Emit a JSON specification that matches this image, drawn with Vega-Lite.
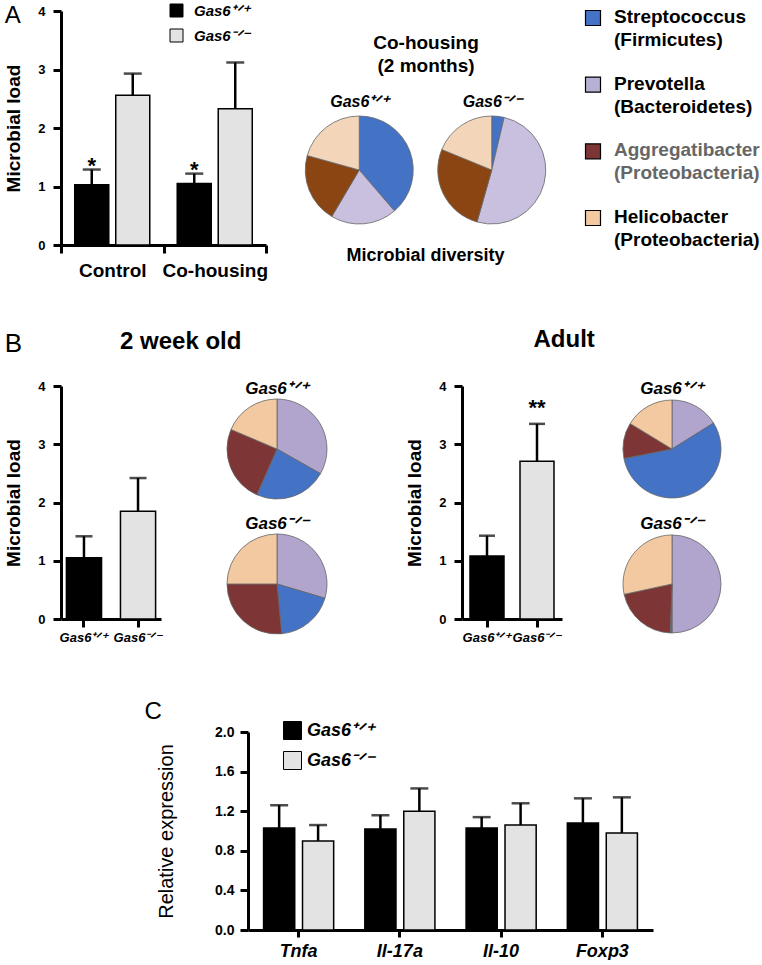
{
  "$schema": "https://vega.github.io/schema/vega-lite/v6.json",
  "padding": {"left": 4, "top": 3, "right": 0, "bottom": 0},
  "spacing": 53,
  "resolve": {"scale": {"color": "independent", "xOffset": "independent", "x": "independent", "y": "independent"}, "legend": {"color": "independent"}},
  "config": {
    "font": "Liberation Sans",
    "view": {"stroke": null},
    "axis": {"domainColor": "black", "tickColor": "black", "labelColor": "black", "titleColor": "black", "domainWidth": 3, "tickWidth": 3, "grid": false, "labelFont": "Liberation Sans", "titleFont": "Liberation Sans", "labelFontWeight": "bold", "titleFontWeight": "bold"},
    "title": {"color": "black", "font": "Liberation Sans", "fontWeight": "bold"},
    "legend": {"labelFont": "Liberation Sans", "labelColor": "black", "padding": 0}
  },
  "datasets": {
    "barA": [
      {"grp": "Control", "gt": "Gas6⁺ᐟ⁺", "v": 1.03, "e": 1.29, "sig": "*"},
      {"grp": "Control", "gt": "Gas6⁻ᐟ⁻", "v": 2.56, "e": 2.93, "sig": null},
      {"grp": "Co-housing", "gt": "Gas6⁺ᐟ⁺", "v": 1.05, "e": 1.22, "sig": "*"},
      {"grp": "Co-housing", "gt": "Gas6⁻ᐟ⁻", "v": 2.33, "e": 3.12, "sig": null}
    ],
    "pieA": [
      {"set": "Co-housing", "gt": "Gas6⁺ᐟ⁺", "taxon": "Streptococcus", "pct": 38.7, "k": 1},
      {"set": "Co-housing", "gt": "Gas6⁺ᐟ⁺", "taxon": "Prevotella", "pct": 19.8, "k": 2},
      {"set": "Co-housing", "gt": "Gas6⁺ᐟ⁺", "taxon": "Aggregatibacter", "pct": 20.8, "k": 3},
      {"set": "Co-housing", "gt": "Gas6⁺ᐟ⁺", "taxon": "Helicobacter", "pct": 20.7, "k": 4},
      {"set": "Co-housing", "gt": "Gas6⁻ᐟ⁻", "taxon": "Streptococcus", "pct": 3.7, "k": 1},
      {"set": "Co-housing", "gt": "Gas6⁻ᐟ⁻", "taxon": "Prevotella", "pct": 50.7, "k": 2},
      {"set": "Co-housing", "gt": "Gas6⁻ᐟ⁻", "taxon": "Aggregatibacter", "pct": 26.8, "k": 3},
      {"set": "Co-housing", "gt": "Gas6⁻ᐟ⁻", "taxon": "Helicobacter", "pct": 18.8, "k": 4}
    ],
    "leg": [
      {"taxon": "Streptococcus", "label": "Streptococcus\n(Firmicutes)"},
      {"taxon": "Prevotella", "label": "Prevotella\n(Bacteroidetes)"},
      {"taxon": "Aggregatibacter", "label": "Aggregatibacter\n(Proteobacteria)"},
      {"taxon": "Helicobacter", "label": "Helicobacter\n(Proteobacteria)"}
    ],
    "barB1": [
      {"gt": "Gas6⁺ᐟ⁺", "v": 1.05, "e": 1.42},
      {"gt": "Gas6⁻ᐟ⁻", "v": 1.85, "e": 2.42}
    ],
    "barB2": [
      {"gt": "Gas6⁺ᐟ⁺", "v": 1.08, "e": 1.43, "sig": null},
      {"gt": "Gas6⁻ᐟ⁻", "v": 2.71, "e": 3.35, "sig": "**"}
    ],
    "pieB1": [
      {"gt": "Gas6⁺ᐟ⁺", "taxon": "Prevotella", "pct": 33.2, "k": 1},
      {"gt": "Gas6⁺ᐟ⁺", "taxon": "Streptococcus", "pct": 23.4, "k": 2},
      {"gt": "Gas6⁺ᐟ⁺", "taxon": "Aggregatibacter", "pct": 24.8, "k": 3},
      {"gt": "Gas6⁺ᐟ⁺", "taxon": "Helicobacter", "pct": 18.6, "k": 4},
      {"gt": "Gas6⁻ᐟ⁻", "taxon": "Prevotella", "pct": 29.6, "k": 1},
      {"gt": "Gas6⁻ᐟ⁻", "taxon": "Streptococcus", "pct": 18.9, "k": 2},
      {"gt": "Gas6⁻ᐟ⁻", "taxon": "Aggregatibacter", "pct": 26.5, "k": 3},
      {"gt": "Gas6⁻ᐟ⁻", "taxon": "Helicobacter", "pct": 25.0, "k": 4}
    ],
    "pieB2": [
      {"gt": "Gas6⁺ᐟ⁺", "taxon": "Prevotella", "pct": 16.1, "k": 1},
      {"gt": "Gas6⁺ᐟ⁺", "taxon": "Streptococcus", "pct": 55.8, "k": 2},
      {"gt": "Gas6⁺ᐟ⁺", "taxon": "Aggregatibacter", "pct": 11.8, "k": 3},
      {"gt": "Gas6⁺ᐟ⁺", "taxon": "Helicobacter", "pct": 16.3, "k": 4},
      {"gt": "Gas6⁻ᐟ⁻", "taxon": "Prevotella", "pct": 50.0, "k": 1},
      {"gt": "Gas6⁻ᐟ⁻", "taxon": "Streptococcus", "pct": 0.6, "k": 2},
      {"gt": "Gas6⁻ᐟ⁻", "taxon": "Aggregatibacter", "pct": 21.0, "k": 3},
      {"gt": "Gas6⁻ᐟ⁻", "taxon": "Helicobacter", "pct": 28.4, "k": 4}
    ],
    "barC": [
      {"gene": "Tnfa", "gt": "Gas6⁺ᐟ⁺", "v": 1.03, "e": 1.26},
      {"gene": "Tnfa", "gt": "Gas6⁻ᐟ⁻", "v": 0.90, "e": 1.06},
      {"gene": "Il-17a", "gt": "Gas6⁺ᐟ⁺", "v": 1.02, "e": 1.16},
      {"gene": "Il-17a", "gt": "Gas6⁻ᐟ⁻", "v": 1.20, "e": 1.43},
      {"gene": "Il-10", "gt": "Gas6⁺ᐟ⁺", "v": 1.03, "e": 1.14},
      {"gene": "Il-10", "gt": "Gas6⁻ᐟ⁻", "v": 1.06, "e": 1.28},
      {"gene": "Foxp3", "gt": "Gas6⁺ᐟ⁺", "v": 1.08, "e": 1.33},
      {"gene": "Foxp3", "gt": "Gas6⁻ᐟ⁻", "v": 0.98, "e": 1.34}
    ],
    "spacer": [{"t": ""}]
  },
  "vconcat": [
    {
      "vconcat": [
        {
          "hconcat": [
            {
              "width": 205, "height": 234,
              "data": {"name": "barA"},
              "title": {"text": "A", "anchor": "start", "frame": "bounds", "fontSize": 24, "fontWeight": "normal", "offset": -25},
              "encoding": {
                "x": {"field": "grp", "type": "nominal", "sort": ["Control", "Co-housing"], "scale": {"paddingInner": 0, "paddingOuter": 0},
                      "axis": {"title": null, "labelAngle": 0, "labelFontSize": 19, "tickBand": "extent", "tickSize": 8, "labelPadding": 8}},
                "xOffset": {"field": "gt", "type": "nominal", "sort": ["Gas6⁺ᐟ⁺", "Gas6⁻ᐟ⁻"], "scale": {"paddingInner": 0.17, "paddingOuter": 0.335}}
              },
              "layer": [
                {
                  "mark": {"type": "bar", "stroke": "black", "strokeWidth": 1.5},
                  "encoding": {
                    "y": {"field": "v", "type": "quantitative", "scale": {"domain": [0, 4]}, "title": "Microbial load",
                          "axis": {"values": [0, 1, 2, 3, 4], "tickCount": 10, "format": "d", "titleFontSize": 19, "labelFontSize": 13, "tickSize": 8, "labelPadding": 8, "titlePadding": 14}},
                    "color": {"field": "gt", "type": "nominal", "scale": {"domain": ["Gas6⁺ᐟ⁺", "Gas6⁻ᐟ⁻"], "range": ["#000000", "#e3e3e3"]},
                              "legend": {"title": null, "orient": "none", "legendX": 108, "legendY": -8, "symbolType": "square", "symbolSize": 169, "symbolStrokeColor": "black", "symbolStrokeWidth": 1, "labelFontSize": 15, "labelFontStyle": "italic", "labelFontWeight": "bold", "labelOffset": 10, "rowPadding": 8}}
                  }
                },
                {
                  "mark": {"type": "rule", "strokeWidth": 2.5, "color": "black"},
                  "encoding": {"y": {"field": "v", "type": "quantitative", "title": "Microbial load"}, "y2": {"field": "e"}}
                },
                {
                  "mark": {"type": "tick", "size": 18, "thickness": 2.5, "color": "black"},
                  "encoding": {"y": {"field": "e", "type": "quantitative", "title": "Microbial load"}}
                },
                {
                  "transform": [{"filter": "datum.sig != null"}],
                  "mark": {"type": "text", "fontSize": 22, "fontWeight": "bold", "baseline": "alphabetic", "dy": 3},
                  "encoding": {"y": {"field": "e", "type": "quantitative", "title": "Microbial load"}, "text": {"field": "sig"}}
                }
              ]
            },
            {
              "width": 265, "height": 240,
              "data": {"name": "pieA"},
              "transform": [{"stack": "pct", "groupby": ["gt"], "sort": [{"field": "k", "order": "ascending"}], "as": ["t0", "t1"]}],
              "title": {"text": "Microbial diversity", "orient": "bottom", "offset": -4, "fontSize": 18},
              "mark": {"type": "arc", "outerRadius": 54, "stroke": "#666666", "strokeWidth": 0.8},
              "encoding": {
                "x": {"field": "gt", "type": "nominal", "sort": ["Gas6⁺ᐟ⁺", "Gas6⁻ᐟ⁻"], "scale": {"type": "point", "padding": 0.5},
                      "axis": {"orient": "top", "offset": -101, "domain": false, "ticks": false, "labelPadding": 3, "labelAngle": 0, "labelFontSize": 16, "labelFontStyle": "italic",
                               "title": ["Co-housing", "(2 months)"], "titleFontSize": 19, "titlePadding": 18, "titleLineHeight": 23}},
                "y": {"field": "set", "type": "nominal", "scale": {"type": "point", "padding": 0, "align": 0.6625}, "axis": null},
                "theta": {"field": "t0", "type": "quantitative", "scale": {"domain": [0, 100]}, "stack": null},
                "theta2": {"field": "t1"},
                "color": {"field": "taxon", "type": "nominal", "scale": {"domain": ["Streptococcus", "Prevotella", "Aggregatibacter", "Helicobacter"], "range": ["#4472c4", "#c8c0de", "#8b4513", "#f3d6b9"]}, "legend": null}
              }
            },
            {
              "width": 16, "height": 214,
              "data": {"name": "leg"},
              "encoding": {
                "y": {"field": "taxon", "type": "nominal", "sort": ["Streptococcus", "Prevotella", "Aggregatibacter", "Helicobacter"], "scale": {"type": "point", "padding": 0.105}, "axis": null}
              },
              "layer": [
                {
                  "mark": {"type": "point", "shape": "square", "filled": true, "size": 225, "stroke": "black", "strokeWidth": 1.2, "opacity": 1},
                  "encoding": {"color": {"field": "taxon", "type": "nominal", "scale": {"domain": ["Streptococcus", "Prevotella", "Aggregatibacter", "Helicobacter"], "range": ["#4472c4", "#b8b0d4", "#7e3535", "#f2c9a0"]}, "legend": null}}
                },
                {
                  "mark": {"type": "text", "align": "left", "baseline": "top", "dx": 21, "dy": -10, "fontSize": 19, "fontWeight": "bold", "lineBreak": "\n", "lineHeight": 23},
                  "encoding": {"text": {"field": "label"}, "color": {"condition": {"test": "datum.taxon === 'Aggregatibacter'", "value": "#666666"}, "value": "black"}}
                }
              ]
            }
          ],
          "spacing": 25,
          "resolve": {"scale": {"color": "independent", "xOffset": "independent", "x": "independent", "y": "independent"}, "legend": {"color": "independent"}}
        },
        {
          "title": {"text": "B", "anchor": "start", "frame": "bounds", "fontSize": 26, "fontWeight": "normal", "offset": -29},
          "hconcat": [
            {
              "hconcat": [
                {
                  "width": 100, "height": 233,
                  "data": {"name": "barB1"},
                  "encoding": {
                    "x": {"field": "gt", "type": "nominal", "sort": ["Gas6⁺ᐟ⁺", "Gas6⁻ᐟ⁻"], "scale": {"paddingInner": 0.35, "paddingOuter": 0.1},
                          "axis": {"title": null, "labelAngle": 0, "labelFontSize": 13, "labelFontStyle": "italic", "tickSize": 8, "labelPadding": 4}}
                  },
                  "layer": [
                    {
                      "mark": {"type": "bar", "stroke": "black", "strokeWidth": 1.5},
                      "encoding": {
                        "y": {"field": "v", "type": "quantitative", "scale": {"domain": [0, 4]}, "title": "Microbial load",
                              "axis": {"values": [0, 1, 2, 3, 4], "tickCount": 10, "format": "d", "titleFontSize": 19, "labelFontSize": 13, "tickSize": 8, "labelPadding": 8, "titlePadding": 14}},
                        "color": {"field": "gt", "type": "nominal", "scale": {"domain": ["Gas6⁺ᐟ⁺", "Gas6⁻ᐟ⁻"], "range": ["#000000", "#e3e3e3"]}, "legend": null}
                      }
                    },
                    {
                      "mark": {"type": "rule", "strokeWidth": 2.5, "color": "black"},
                      "encoding": {"y": {"field": "v", "type": "quantitative", "title": "Microbial load"}, "y2": {"field": "e"}}
                    },
                    {
                      "mark": {"type": "tick", "size": 17, "thickness": 2.5, "color": "black"},
                      "encoding": {"y": {"field": "e", "type": "quantitative", "title": "Microbial load"}}
                    }
                  ]
                },
                {
                  "width": 100, "height": 261,
                  "data": {"name": "pieB1"},
                  "transform": [{"stack": "pct", "groupby": ["gt"], "sort": [{"field": "k", "order": "ascending"}], "as": ["t0", "t1"]}],
                  "encoding": {
                    "y": {"field": "gt", "type": "nominal", "sort": ["Gas6⁺ᐟ⁺", "Gas6⁻ᐟ⁻"], "scale": {"type": "point", "padding": 0.467}, "axis": null}
                  },
                  "layer": [
                    {
                      "mark": {"type": "arc", "outerRadius": 50, "stroke": "#666666", "strokeWidth": 0.8},
                      "encoding": {
                        "theta": {"field": "t0", "type": "quantitative", "scale": {"domain": [0, 100]}, "stack": null},
                        "theta2": {"field": "t1"},
                        "color": {"field": "taxon", "type": "nominal", "scale": {"domain": ["Streptococcus", "Prevotella", "Aggregatibacter", "Helicobacter"], "range": ["#4472c4", "#b1a5cd", "#7e3535", "#f2c9a0"]}, "legend": null}
                      }
                    },
                    {
                      "transform": [{"filter": "datum.k === 1"}],
                      "mark": {"type": "text", "dy": -55, "fontSize": 17, "fontStyle": "italic", "fontWeight": "bold", "baseline": "alphabetic"},
                      "encoding": {"text": {"field": "gt"}}
                    }
                  ]
                }
              ],
              "spacing": 63,
              "title": {"text": "2 week old", "anchor": "middle", "dx": 14, "offset": 26, "fontSize": 24},
              "resolve": {"scale": {"color": "independent", "x": "independent", "y": "independent"}, "legend": {"color": "independent"}}
            },
            {
              "hconcat": [
                {
                  "width": 100, "height": 233,
                  "data": {"name": "barB2"},
                  "encoding": {
                    "x": {"field": "gt", "type": "nominal", "sort": ["Gas6⁺ᐟ⁺", "Gas6⁻ᐟ⁻"], "scale": {"paddingInner": 0.32, "paddingOuter": 0.16},
                          "axis": {"title": null, "labelAngle": 0, "labelFontSize": 13, "labelFontStyle": "italic", "tickSize": 8, "labelPadding": 4}}
                  },
                  "layer": [
                    {
                      "mark": {"type": "bar", "stroke": "black", "strokeWidth": 1.5},
                      "encoding": {
                        "y": {"field": "v", "type": "quantitative", "scale": {"domain": [0, 4]}, "title": "Microbial load",
                              "axis": {"values": [0, 1, 2, 3, 4], "tickCount": 10, "format": "d", "titleFontSize": 19, "labelFontSize": 13, "tickSize": 8, "labelPadding": 8, "titlePadding": 14}},
                        "color": {"field": "gt", "type": "nominal", "scale": {"domain": ["Gas6⁺ᐟ⁺", "Gas6⁻ᐟ⁻"], "range": ["#000000", "#e3e3e3"]}, "legend": null}
                      }
                    },
                    {
                      "mark": {"type": "rule", "strokeWidth": 2.5, "color": "black"},
                      "encoding": {"y": {"field": "v", "type": "quantitative", "title": "Microbial load"}, "y2": {"field": "e"}}
                    },
                    {
                      "mark": {"type": "tick", "size": 16, "thickness": 2.5, "color": "black"},
                      "encoding": {"y": {"field": "e", "type": "quantitative", "title": "Microbial load"}}
                    },
                    {
                      "transform": [{"filter": "datum.sig != null"}],
                      "mark": {"type": "text", "fontSize": 22, "fontWeight": "bold", "baseline": "alphabetic", "dy": -9},
                      "encoding": {"y": {"field": "e", "type": "quantitative", "title": "Microbial load"}, "text": {"field": "sig"}}
                    }
                  ]
                },
                {
                  "width": 100, "height": 261,
                  "data": {"name": "pieB2"},
                  "transform": [{"stack": "pct", "groupby": ["gt"], "sort": [{"field": "k", "order": "ascending"}], "as": ["t0", "t1"]}],
                  "encoding": {
                    "y": {"field": "gt", "type": "nominal", "sort": ["Gas6⁺ᐟ⁺", "Gas6⁻ᐟ⁻"], "scale": {"type": "point", "padding": 0.467}, "axis": null}
                  },
                  "layer": [
                    {
                      "mark": {"type": "arc", "outerRadius": 49, "stroke": "#666666", "strokeWidth": 0.8},
                      "encoding": {
                        "theta": {"field": "t0", "type": "quantitative", "scale": {"domain": [0, 100]}, "stack": null},
                        "theta2": {"field": "t1"},
                        "color": {"field": "taxon", "type": "nominal", "scale": {"domain": ["Streptococcus", "Prevotella", "Aggregatibacter", "Helicobacter"], "range": ["#4472c4", "#b1a5cd", "#7e3535", "#f2c9a0"]}, "legend": null}
                      }
                    },
                    {
                      "transform": [{"filter": "datum.k === 1"}],
                      "mark": {"type": "text", "dy": -55, "fontSize": 17, "fontStyle": "italic", "fontWeight": "bold", "baseline": "alphabetic"},
                      "encoding": {"text": {"field": "gt"}}
                    }
                  ]
                }
              ],
              "spacing": 59,
              "title": {"text": "Adult", "anchor": "middle", "dx": 0, "offset": 28, "fontSize": 24},
              "resolve": {"scale": {"color": "independent", "x": "independent", "y": "independent"}, "legend": {"color": "independent"}}
            }
          ],
          "spacing": 76,
          "resolve": {"scale": {"color": "independent", "x": "independent", "y": "independent"}, "legend": {"color": "independent"}}
        }
      ],
      "spacing": 48,
      "resolve": {"scale": {"color": "independent", "xOffset": "independent", "x": "independent", "y": "independent"}, "legend": {"color": "independent"}}
    },
    {
      "hconcat": [
        {
          "width": 81, "height": 10,
          "data": {"name": "spacer"},
          "mark": {"type": "text"},
          "encoding": {"text": {"field": "t"}}
        },
        {
          "width": 405, "height": 198,
          "data": {"name": "barC"},
          "title": {"text": "C", "anchor": "start", "frame": "bounds", "fontSize": 24, "fontWeight": "normal", "dx": -12, "offset": -3},
          "encoding": {
            "x": {"field": "gene", "type": "nominal", "sort": ["Tnfa", "Il-17a", "Il-10", "Foxp3"], "scale": {"paddingInner": 0, "paddingOuter": 0},
                  "axis": {"title": null, "labelAngle": 0, "labelFontSize": 18, "labelFontStyle": "italic", "tickSize": 7, "labelPadding": 5}},
            "xOffset": {"field": "gt", "type": "nominal", "sort": ["Gas6⁺ᐟ⁺", "Gas6⁻ᐟ⁻"], "scale": {"paddingInner": 0.2, "paddingOuter": 0.4}}
          },
          "layer": [
            {
              "mark": {"type": "bar", "stroke": "black", "strokeWidth": 1.5},
              "encoding": {
                "y": {"field": "v", "type": "quantitative", "scale": {"domain": [0, 2]}, "title": "Relative expression",
                      "axis": {"values": [0, 0.4, 0.8, 1.2, 1.6, 2.0], "tickCount": 12, "format": ".1f", "labelOverlap": false, "titleFontSize": 20, "titleFontWeight": "normal", "labelFontSize": 14, "tickSize": 8, "labelPadding": 6, "titlePadding": 38}},
                "color": {"field": "gt", "type": "nominal", "scale": {"domain": ["Gas6⁺ᐟ⁺", "Gas6⁻ᐟ⁻"], "range": ["#000000", "#e3e3e3"]},
                          "legend": {"title": null, "orient": "none", "legendX": 35, "legendY": -11, "symbolType": "square", "symbolSize": 324, "symbolStrokeColor": "black", "symbolStrokeWidth": 1, "labelFontSize": 18, "labelFontStyle": "italic", "labelFontWeight": "bold", "labelOffset": 5, "rowPadding": 7}}
              }
            },
            {
              "mark": {"type": "rule", "strokeWidth": 2.5, "color": "black"},
              "encoding": {"y": {"field": "v", "type": "quantitative", "title": "Relative expression"}, "y2": {"field": "e"}}
            },
            {
              "mark": {"type": "tick", "size": 18, "thickness": 2.5, "color": "black"},
              "encoding": {"y": {"field": "e", "type": "quantitative", "title": "Relative expression"}}
            }
          ]
        }
      ],
      "spacing": 2,
      "resolve": {"scale": {"color": "independent", "xOffset": "independent", "x": "independent", "y": "independent"}, "legend": {"color": "independent"}}
    }
  ]
}
